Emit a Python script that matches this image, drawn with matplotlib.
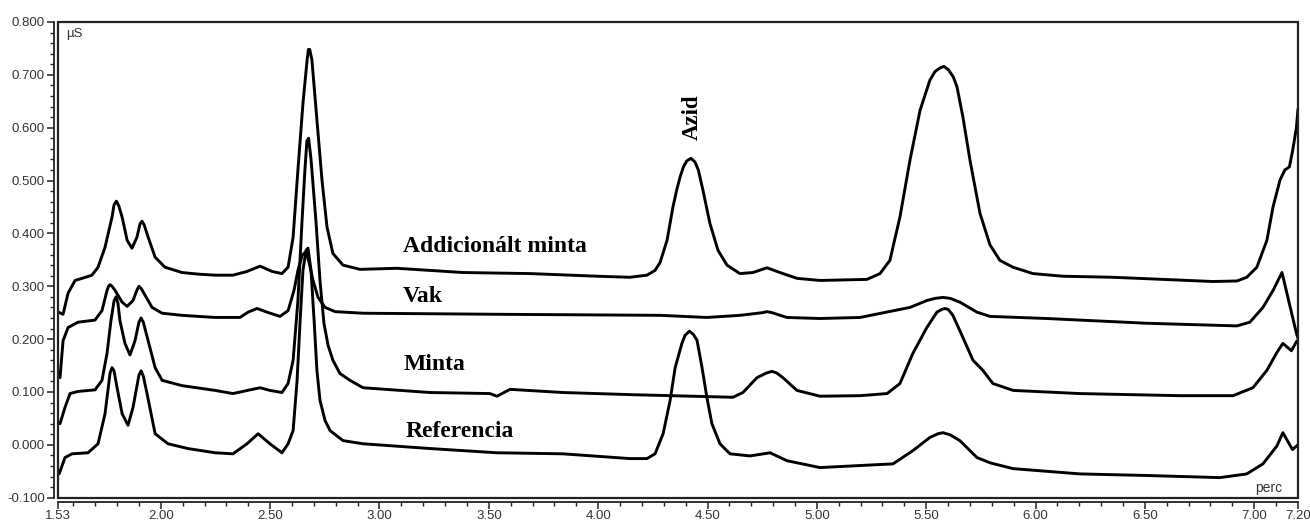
import matplotlib
matplotlib.use("Agg")
import matplotlib.pyplot as plt
from matplotlib.patches import Rectangle

# ---- data ----
add_t = [1.532, 1.553, 1.576, 1.608, 1.640, 1.685, 1.713, 1.745, 1.777, 1.786, 1.797, 1.808, 1.823,
         1.846, 1.868, 1.891, 1.905, 1.914, 1.924, 1.942, 1.974, 2.019, 2.097, 2.170, 2.248, 2.330,
         2.394, 2.454, 2.509, 2.554, 2.582, 2.605, 2.627, 2.650, 2.669, 2.675, 2.681, 2.691, 2.714,
         2.737, 2.760, 2.787, 2.833, 2.911, 3.080, 3.382, 3.688, 3.995, 4.145, 4.223, 4.260, 4.283,
         4.315, 4.342, 4.359, 4.374, 4.390, 4.405, 4.424, 4.443, 4.458, 4.479, 4.511, 4.548, 4.589,
         4.648, 4.708, 4.772, 4.831, 4.909, 5.014, 5.229, 5.289, 5.334, 5.380, 5.426, 5.472, 5.517,
         5.540, 5.563, 5.581, 5.601, 5.624, 5.641, 5.668, 5.700, 5.746, 5.792, 5.837, 5.897, 5.988,
         6.125, 6.354, 6.583, 6.811, 6.921, 6.966, 7.012, 7.058, 7.086, 7.118, 7.140, 7.161, 7.175,
         7.193, 7.200]
add_v = [0.251, 0.247, 0.287, 0.311, 0.315, 0.321, 0.336, 0.374, 0.431, 0.454, 0.461, 0.452, 0.431,
         0.387, 0.372, 0.393, 0.418, 0.423, 0.416, 0.393, 0.355, 0.336, 0.326, 0.323, 0.321, 0.321,
         0.328, 0.338, 0.328, 0.324, 0.336, 0.393, 0.520, 0.646, 0.728, 0.748, 0.748, 0.728, 0.614,
         0.501, 0.412, 0.362, 0.340, 0.332, 0.334, 0.326, 0.324, 0.319, 0.317, 0.321, 0.330, 0.345,
         0.387, 0.450, 0.482, 0.506, 0.526, 0.537, 0.542, 0.535, 0.520, 0.482, 0.419, 0.368, 0.340,
         0.324, 0.326, 0.335, 0.326, 0.315, 0.311, 0.313, 0.324, 0.349, 0.431, 0.539, 0.633, 0.690,
         0.706, 0.713, 0.716, 0.710, 0.696, 0.677, 0.620, 0.539, 0.438, 0.378, 0.349, 0.336, 0.324,
         0.319, 0.317, 0.313, 0.309, 0.310, 0.317, 0.336, 0.387, 0.450, 0.501, 0.520, 0.526, 0.555,
         0.600, 0.635]

vak_t = [1.539, 1.553, 1.576, 1.621, 1.699, 1.731, 1.754, 1.761, 1.768, 1.777, 1.791, 1.823, 1.846,
         1.873, 1.891, 1.900, 1.910, 1.928, 1.960, 2.006, 2.097, 2.248, 2.362, 2.399, 2.440, 2.486,
         2.545, 2.582, 2.609, 2.627, 2.646, 2.659, 2.668, 2.678, 2.696, 2.719, 2.751, 2.797, 2.925,
         3.537, 4.283, 4.497, 4.648, 4.750, 4.772, 4.795, 4.863, 5.014, 5.197, 5.426, 5.503, 5.540,
         5.577, 5.610, 5.654, 5.732, 5.792, 6.052, 6.509, 6.921, 6.980, 7.040, 7.086, 7.127, 7.154,
         7.193, 7.200]
vak_v = [0.127, 0.197, 0.222, 0.232, 0.236, 0.254, 0.292, 0.300, 0.303, 0.300, 0.292, 0.270, 0.262,
         0.273, 0.293, 0.300, 0.296, 0.283, 0.260, 0.249, 0.245, 0.241, 0.241, 0.251, 0.258, 0.251,
         0.243, 0.254, 0.292, 0.330, 0.358, 0.364, 0.360, 0.345, 0.311, 0.279, 0.260, 0.252, 0.249,
         0.247, 0.245, 0.241, 0.245, 0.250, 0.252, 0.250, 0.241, 0.239, 0.241, 0.260, 0.273, 0.277,
         0.279, 0.277, 0.270, 0.251, 0.243, 0.239, 0.230, 0.225, 0.232, 0.260, 0.292, 0.326, 0.279,
         0.211, 0.202]

minta_t = [1.539, 1.562, 1.585, 1.621, 1.699, 1.731, 1.754, 1.772, 1.786, 1.795, 1.804, 1.813, 1.836,
           1.859, 1.882, 1.900, 1.910, 1.920, 1.942, 1.974, 2.006, 2.097, 2.248, 2.330, 2.408, 2.454,
           2.499, 2.554, 2.582, 2.605, 2.627, 2.646, 2.659, 2.668, 2.676, 2.687, 2.710, 2.728, 2.746,
           2.765, 2.787, 2.819, 2.865, 2.925, 3.231, 3.505, 3.537, 3.597, 3.839, 4.145, 4.616, 4.662,
           4.726, 4.770, 4.795, 4.816, 4.845, 4.909, 5.014, 5.197, 5.321, 5.380, 5.439, 5.503, 5.549,
           5.570, 5.586, 5.601, 5.622, 5.668, 5.714, 5.759, 5.805, 5.897, 6.203, 6.660, 6.903, 6.994,
           7.058, 7.104, 7.131, 7.170, 7.193, 7.200]
minta_v = [0.040, 0.071, 0.097, 0.101, 0.104, 0.122, 0.173, 0.235, 0.272, 0.280, 0.268, 0.235, 0.192,
           0.170, 0.197, 0.232, 0.240, 0.232, 0.197, 0.146, 0.122, 0.112, 0.103, 0.097, 0.104, 0.108,
           0.103, 0.099, 0.116, 0.160, 0.273, 0.425, 0.520, 0.575, 0.580, 0.540, 0.420, 0.310, 0.230,
           0.188, 0.160, 0.135, 0.122, 0.108, 0.099, 0.097, 0.092, 0.105, 0.099, 0.095, 0.090, 0.099,
           0.127, 0.136, 0.139, 0.136, 0.127, 0.103, 0.092, 0.093, 0.097, 0.116, 0.173, 0.222, 0.251,
           0.256, 0.258, 0.256, 0.245, 0.203, 0.160, 0.141, 0.116, 0.103, 0.097, 0.093, 0.093, 0.108,
           0.141, 0.175, 0.192, 0.178, 0.195, 0.198]

ref_t = [1.535, 1.562, 1.594, 1.667, 1.713, 1.745, 1.768, 1.777, 1.786, 1.800, 1.823, 1.850, 1.873,
         1.900, 1.910, 1.920, 1.937, 1.974, 2.033, 2.124, 2.248, 2.330, 2.394, 2.445, 2.499, 2.554,
         2.582, 2.605, 2.623, 2.637, 2.650, 2.664, 2.673, 2.687, 2.701, 2.714, 2.728, 2.751, 2.774,
         2.833, 2.925, 3.231, 3.537, 3.839, 4.145, 4.223, 4.260, 4.297, 4.329, 4.352, 4.383, 4.397,
         4.417, 4.435, 4.452, 4.475, 4.497, 4.520, 4.557, 4.603, 4.694, 4.786, 4.863, 5.014, 5.348,
         5.439, 5.517, 5.554, 5.577, 5.609, 5.654, 5.732, 5.792, 5.897, 6.203, 6.509, 6.843, 6.966,
         7.040, 7.104, 7.131, 7.175, 7.200]
ref_v = [-0.055, -0.024, -0.017, -0.015, 0.002, 0.059, 0.136, 0.146, 0.140, 0.108, 0.059, 0.037, 0.071,
         0.132, 0.140, 0.130, 0.097, 0.021, 0.002, -0.007, -0.015, -0.017, 0.002, 0.021, 0.002, -0.015,
         0.002, 0.027, 0.121, 0.235, 0.330, 0.368, 0.372, 0.330, 0.235, 0.140, 0.084, 0.046, 0.027,
         0.008, 0.002, -0.007, -0.015, -0.017, -0.026, -0.026, -0.017, 0.021, 0.084, 0.146, 0.192, 0.207,
         0.215, 0.209, 0.198, 0.146, 0.090, 0.040, 0.002, -0.017, -0.021, -0.015, -0.030, -0.043, -0.036,
         -0.011, 0.014, 0.021, 0.023, 0.019, 0.008, -0.024, -0.034, -0.045, -0.055, -0.058, -0.062, -0.055,
         -0.036, -0.002, 0.023, -0.009, 0.000]

x_major = [1.53, 2.00, 2.50, 3.00, 3.50, 4.00, 4.50, 5.00, 5.50, 6.00, 6.50, 7.00, 7.20]
y_major = [-0.1, 0.0, 0.1, 0.2, 0.3, 0.4, 0.5, 0.6, 0.7, 0.8]

series = [(add_t, add_v), (vak_t, vak_v), (minta_t, minta_v), (ref_t, ref_v)]

# ---- figure ----
fig = plt.figure(figsize=(13.10, 5.27), dpi=100)
ax = fig.add_axes([0.0443, 0.0556, 0.9465, 0.9027])

for t, v in series:
    ax.plot(t, v, color="black", lw=2.1, solid_joinstyle="round", solid_capstyle="round")

ax.set_xlim(1.53, 7.20)
ax.set_ylim(-0.1, 0.8)

ax.set_xticks(x_major)
ax.set_xticklabels([f"{x:.2f}" for x in x_major])
minor_x = [round(1.6 + 0.1 * i, 2) for i in range(56)]
ax.set_xticks([m for m in minor_x if m not in x_major and m < 7.2], minor=True)
ax.set_yticks(y_major)
ax.set_yticklabels([f"{y:.3f}" for y in y_major])
ax.set_yticks([round(-0.1 + 0.02 * i, 2) for i in range(46) if i % 5 != 0], minor=True)

for s in ["top", "right"]:
    ax.spines[s].set_visible(False)
for s in ["left", "bottom"]:
    ax.spines[s].set_position(("outward", 3))
    ax.spines[s].set_linewidth(1.3)
    ax.spines[s].set_color("#222222")

ax.add_patch(Rectangle((0, 0), 1, 1, transform=ax.transAxes, fill=False,
                       lw=1.6, edgecolor="#222222", clip_on=False, zorder=5))

ax.tick_params(axis="both", which="major", direction="out", length=5, width=1.1,
               labelsize=9.5, colors="#222222", pad=1.5)
ax.tick_params(axis="x", which="major", pad=0.5)
ax.tick_params(axis="both", which="minor", direction="out", length=3, width=1.0, colors="#222222")
for lab in ax.get_xticklabels() + ax.get_yticklabels():
    lab.set_fontfamily("Liberation Sans")
    lab.set_color("#333333")

serif = dict(family="Liberation Serif", weight="bold", color="black")
ax.text(3.107, 0.364, "Addicionált minta", fontsize=17, ha="left", va="baseline", **serif)
ax.text(3.107, 0.270, "Vak", fontsize=17, ha="left", va="baseline", **serif)
ax.text(3.112, 0.141, "Minta", fontsize=17, ha="left", va="baseline", **serif)
ax.text(3.121, 0.014, "Referencia", fontsize=17, ha="left", va="baseline", **serif)
ax.text(4.43, 0.576, "Azid", fontsize=16.5, rotation=90, ha="center", va="bottom", **serif)

ax.text(1.565, 0.777, "µS", fontsize=9.5, family="Liberation Sans", ha="left", va="center", color="#333333")
ax.text(7.13, -0.081, "perc", fontsize=10, family="Liberation Sans", ha="right", va="center", color="#333333")

fig.savefig("out.png", dpi=100)
